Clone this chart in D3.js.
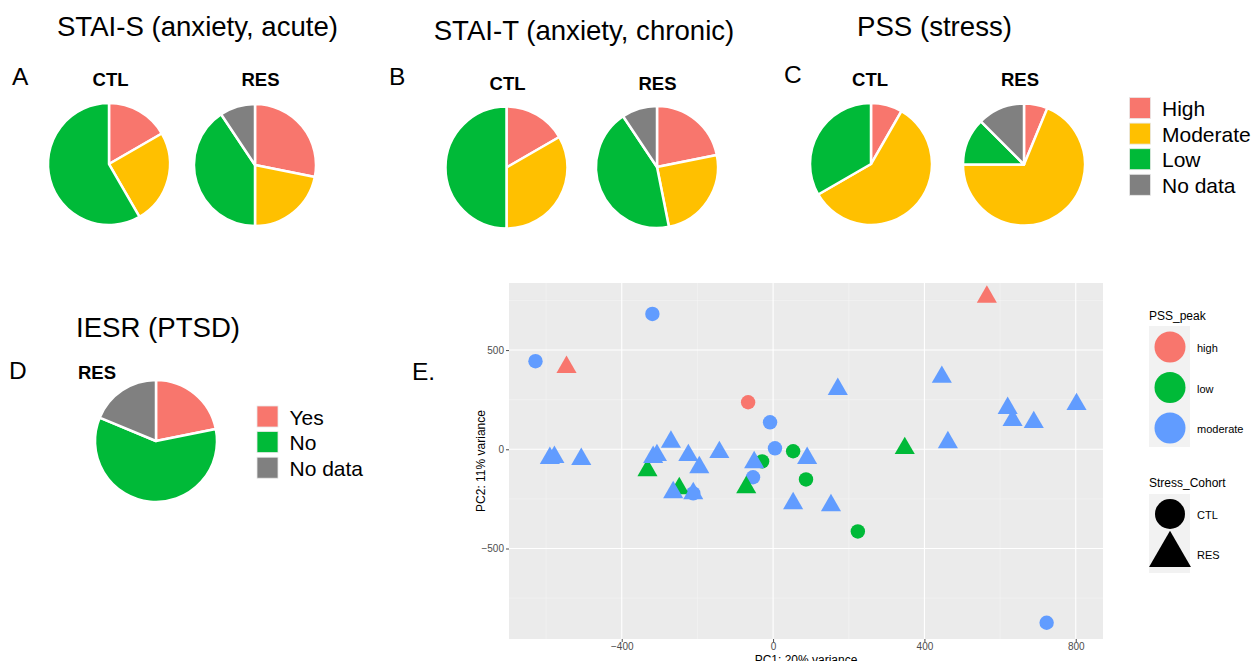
<!DOCTYPE html>
<html>
<head>
<meta charset="utf-8">
<script src="https://cdn.jsdelivr.net/npm/d3@7"></script>
<style>
  body { margin: 0; background: #fff; }
  svg { display: block; font-family: Arial, "Liberation Sans", sans-serif; }
</style>
</head>
<body>
<div class="canvas"></div>
<script>
// ---- data ----
const pieCategories = ["High", "Moderate", "Low", "No data"];
const staiS_CTL = [2, 3, 7, 0];
const staiS_RES = [9, 7, 13, 3];
const staiT_CTL = [2, 4, 6, 0];
const staiT_RES = [7, 8, 14, 3];
const pss_CTL = [1, 7, 4, 0];
const pss_RES = [2, 22, 4, 4];
const iesrCategories = ["Yes", "No", "No data"];
const iesr_RES = [7, 19, 6];

// PCA points
const pc1 = [-628, -319, -8, 5, -53, -211, 723, -29, 53, 87, 224, -66,
             -546, 565, -332, -248, -71, 348,
             -590, -578, -507, -270, -317, -307, -224, -195, -142, -50, 90, 53, -264, -211, 171, 446, 462, 620, 633, 689, 802, 153];
const pc2 = [444, 682, 136, 5, -141, -222, -874, -61, -10, -152, -414, 237,
             414, 768, -106, -197, -192, 5,
             -45, -40, -50, 37, -40, -30, -30, -91, -15, -66, -45, -273, -217, -222, 303, 364, 35, 207, 146, 136, 227, -283];
const pssPeak = ["moderate","moderate","moderate","moderate","moderate","moderate","moderate","low","low","low","low","high",
                 "high","high","low","low","low","low",
                 "moderate","moderate","moderate","moderate","moderate","moderate","moderate","moderate","moderate","moderate","moderate","moderate","moderate","moderate","moderate","moderate","moderate","moderate","moderate","moderate","moderate","moderate"];
const cohort = pc1.map((d, i) => i < 12 ? "CTL" : "RES");
const pssLevels = ["high", "low", "moderate"];
const cohortLevels = ["CTL", "RES"];
const xTicks = [-400, 0, 400, 800];
const yTicks = [-500, 0, 500];

const svg = d3.select('.canvas')
              .append('svg')
              .attr('width', 1252)
              .attr('height', 661);

const pieColor = d3.scaleOrdinal()
                   .domain(pieCategories)
                   .range(['#F8766D', '#FFC000', '#00BA38', '#808080']);
const iesrColor = d3.scaleOrdinal()
                    .domain(iesrCategories)
                    .range(['#F8766D', '#00BA38', '#808080']);

const pie = d3.pie().sort(null).value(d => d.value);
const arcPath = d3.arc().innerRadius(0).outerRadius(61);

const drawPie = (cx, cy, cats, vals, color) => {
    const data = cats.map((c, i) => ({name: c, value: vals[i]}));
    svg.append('g')
       .attr('transform', `translate(${cx},${cy})`)
       .selectAll('path')
       .data(pie(data).filter(d => d.data.value > 0))
       .enter().append('path')
       .attr('d', arcPath)
       .attr('fill', d => color(d.data.name))
       .attr('stroke', '#fff')
       .attr('stroke-width', 2.5)
       .attr('stroke-linejoin', 'round');
};

const text = (x, y, t, size, opts = {}) => svg.append('text')
    .attr('x', x).attr('y', y)
    .attr('font-size', size)
    .attr('text-anchor', opts.anchor || 'start')
    .attr('font-weight', opts.bold ? 'bold' : 'normal')
    .attr('fill', opts.fill || '#000')
    .text(t);

// titles
text(197.5, 36, 'STAI-S (anxiety, acute)', 27.6, {anchor: 'middle'});
text(584, 40, 'STAI-T (anxiety, chronic)', 27.6, {anchor: 'middle'});
text(934.5, 36, 'PSS (stress)', 27.6, {anchor: 'middle'});
text(76, 337, 'IESR (PTSD)', 27.6);

// panel letters
text(12, 85, 'A', 24.5);
text(389, 85, 'B', 24.5);
text(784, 83, 'C', 24.5);
text(9, 379, 'D', 24.5);
text(412, 380, 'E.', 24.5);

// group labels
text(110.5, 86, 'CTL', 18.5, {anchor: 'middle', bold: true});
text(260.5, 86, 'RES', 18.5, {anchor: 'middle', bold: true});
text(507.5, 90, 'CTL', 18.5, {anchor: 'middle', bold: true});
text(657.5, 90, 'RES', 18.5, {anchor: 'middle', bold: true});
text(870, 86, 'CTL', 18.5, {anchor: 'middle', bold: true});
text(1020, 86, 'RES', 18.5, {anchor: 'middle', bold: true});
text(97, 379, 'RES', 18.5, {anchor: 'middle', bold: true});

// pies
drawPie(109, 164, pieCategories, staiS_CTL, pieColor);
drawPie(255, 165, pieCategories, staiS_RES, pieColor);
drawPie(506.5, 167.5, pieCategories, staiT_CTL, pieColor);
drawPie(657, 167, pieCategories, staiT_RES, pieColor);
drawPie(871, 164, pieCategories, pss_CTL, pieColor);
drawPie(1024, 164.5, pieCategories, pss_RES, pieColor);
drawPie(156, 441, iesrCategories, iesr_RES, iesrColor);

// pie legends
const pieLegend = (x, y, cats, color, step) => {
    const g = svg.append('g').attr('transform', `translate(${x},${y})`);
    cats.forEach((c, i) => {
        g.append('rect').attr('x', 0).attr('y', i * step)
         .attr('width', 21).attr('height', 21)
         .attr('fill', color(c))
         .attr('stroke', '#e8e8e8').attr('stroke-width', 0.8);
        g.append('text').attr('x', 32.5).attr('y', i * step + 18.5)
         .attr('font-size', 21).text(c);
    });
};
pieLegend(1129.5, 97.5, pieCategories, pieColor, 25.6);
pieLegend(257, 406, iesrCategories, iesrColor, 25.6);

// ---- PCA scatter ----
const plot = {left: 509, right: 1103, top: 283, bottom: 639};
const x = d3.scaleLinear().domain([-698, 872]).range([plot.left, plot.right]);
const y = d3.scaleLinear().domain([-956, 838]).range([plot.bottom, plot.top]);
const ptColor = d3.scaleOrdinal().domain(pssLevels).range(['#F8766D', '#00BA38', '#619CFF']);

svg.append('rect')
   .attr('x', plot.left).attr('y', plot.top)
   .attr('width', plot.right - plot.left).attr('height', plot.bottom - plot.top)
   .attr('fill', '#EBEBEB');

const grid = svg.append('g');
const xMinor = [-600, -200, 200, 600];
const yMinor = [-750, -250, 250, 750];
grid.selectAll('.xm').data(xMinor).enter().append('line')
    .attr('x1', d => x(d)).attr('x2', d => x(d))
    .attr('y1', plot.top).attr('y2', plot.bottom)
    .attr('stroke', '#f5f5f5').attr('stroke-width', 0.6);
grid.selectAll('.ym').data(yMinor).enter().append('line')
    .attr('y1', d => y(d)).attr('y2', d => y(d))
    .attr('x1', plot.left).attr('x2', plot.right)
    .attr('stroke', '#f5f5f5').attr('stroke-width', 0.6);
grid.selectAll('.xg').data(xTicks).enter().append('line')
    .attr('x1', d => x(d)).attr('x2', d => x(d))
    .attr('y1', plot.top).attr('y2', plot.bottom)
    .attr('stroke', '#fff').attr('stroke-width', 1.1);
grid.selectAll('.yg').data(yTicks).enter().append('line')
    .attr('y1', d => y(d)).attr('y2', d => y(d))
    .attr('x1', plot.left).attr('x2', plot.right)
    .attr('stroke', '#fff').attr('stroke-width', 1.1);

// axes
const xAxis = svg.append('g')
    .attr('transform', `translate(0,${plot.bottom})`)
    .call(d3.axisBottom(x).tickValues(xTicks).tickSize(3).tickPadding(1));
const yAxis = svg.append('g')
    .attr('transform', `translate(${plot.left},0)`)
    .call(d3.axisLeft(y).tickValues(yTicks).tickSize(3).tickPadding(2));
[xAxis, yAxis].forEach(a => {
    a.select('.domain').remove();
    a.selectAll('line').attr('stroke', '#4D4D4D');
    a.selectAll('text').attr('fill', '#4D4D4D').attr('font-size', 10)
     .attr('font-family', 'Arial, "Liberation Sans", sans-serif');
});

text((plot.left + plot.right) / 2, 664, 'PC1: 20% variance', 12, {anchor: 'middle'});
svg.append('text')
   .attr('transform', `translate(485,${(plot.top + plot.bottom) / 2}) rotate(-90)`)
   .attr('text-anchor', 'middle')
   .attr('font-size', 12)
   .text('PC2: 11% variance');

// points: circles first, then low/high triangles, then moderate triangles
const pts = pc1.map((d, i) => ({x: pc1[i], y: pc2[i], pss: pssPeak[i], cohort: cohort[i]}));
const order = d => d.cohort === 'CTL' ? 0 : (d.pss === 'moderate' ? 2 : 1);
pts.sort((a, b) => order(a) - order(b));
const tri = d3.symbol().type(d3.symbolTriangle).size(175);
svg.append('g').selectAll('path')
   .data(pts).enter().append('path')
   .attr('transform', d => `translate(${x(d.x)},${y(d.y)})`)
   .attr('d', d => d.cohort === 'CTL'
        ? d3.symbol().type(d3.symbolCircle).size(Math.PI * 7.2 * 7.2)()
        : tri())
   .attr('fill', d => ptColor(d.pss));

// scatter legends
const lg = svg.append('g');
lg.append('text').attr('x', 1149).attr('y', 320).attr('font-size', 12).text('PSS_peak');
lg.append('rect').attr('x', 1149).attr('y', 326).attr('width', 41).attr('height', 121).attr('fill', '#F2F2F2');
pssLevels.forEach((c, i) => {
    lg.append('circle').attr('cx', 1170).attr('cy', 347 + i * 40.5).attr('r', 15.5).attr('fill', ptColor(c));
    lg.append('text').attr('x', 1197).attr('y', 352 + i * 40.5).attr('font-size', 11).text(c);
});
lg.append('text').attr('x', 1149).attr('y', 487).attr('font-size', 12).text('Stress_Cohort');
lg.append('rect').attr('x', 1149).attr('y', 494).attr('width', 41).attr('height', 79).attr('fill', '#F2F2F2');
lg.append('circle').attr('cx', 1170).attr('cy', 514).attr('r', 15).attr('fill', '#000');
lg.append('path')
  .attr('transform', 'translate(1170,555)')
  .attr('d', d3.symbol().type(d3.symbolTriangle).size(760)())
  .attr('fill', '#000');
cohortLevels.forEach((c, i) => {
    lg.append('text').attr('x', 1197).attr('y', 519 + i * 40).attr('font-size', 11).text(c);
});
</script>
</body>
</html>
